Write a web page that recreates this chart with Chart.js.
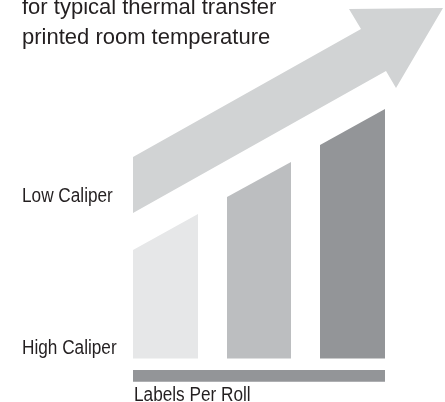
<!DOCTYPE html>
<html>
<head>
<meta charset="utf-8">
<style>
  body { margin: 0; background: #fff; }
  #wrap { width: 445px; height: 402px; position: relative; }
</style>
</head>
<body>
<div id="wrap"><canvas id="myChart"></canvas></div>
<script src="https://cdn.jsdelivr.net/npm/chart.js@4.4.0/dist/chart.umd.min.js"></script>
<script>
// values (x = labels per roll, y = caliper)
const rollStart = [133, 227, 320];
const rollEnd = [198, 291, 385];
const caliperAtStart = [108.5, 161.5, 213.5];
const caliperAtEnd = [144.5, 196.5, 249.5];
const barColors = ['#e6e7e8', '#bcbec0', '#939598'];

const arrowX = [133, 361, 349, 443, 396, 386, 133];
const arrowY = [201.5, 329.5, 349.5, 350.5, 270.5, 287.5, 145.5];

const axisX = [133, 385];
const axisTop = -11.5;
const axisBottom = -23.2;

const titleLines = ['for typical thermal transfer', 'printed room temperature'];
const caliperLabels = ['Low Caliper', 'High Caliper'];
const xTitle = 'Labels Per Roll';

let datasets = []
datasets.push({
    data: arrowX.map((x, i) => ({x: x, y: arrowY[i]})),
    backgroundColor: '#d1d3d4',
    borderColor: 'rgba(0,0,0,0)',
    borderWidth: 0,
    pointRadius: 0,
    fill: 'shape',
    tension: 0
})
rollStart.forEach((x, i) => {
    datasets.push({
        data: [{x: x, y: caliperAtStart[i]}, {x: rollEnd[i], y: caliperAtEnd[i]}],
        backgroundColor: barColors[i],
        borderColor: 'rgba(0,0,0,0)',
        borderWidth: 0,
        pointRadius: 0,
        fill: 'origin'
    })
})
datasets.push({
    data: axisX.map(x => ({x: x, y: axisTop})),
    backgroundColor: '#939598',
    borderColor: 'rgba(0,0,0,0)',
    borderWidth: 0,
    pointRadius: 0,
    fill: {value: axisBottom}
})

function drawText(ctx, text, x, y, size, sx) {
    ctx.save()
    ctx.font = size + 'px "Liberation Sans", Arial, sans-serif'
    ctx.fillStyle = '#231f20'
    ctx.textBaseline = 'alphabetic'
    ctx.textAlign = 'left'
    ctx.translate(x, y)
    ctx.scale(sx, 1)
    ctx.fillText(text, 0, 0)
    ctx.restore()
}

const textPlugin = {
    id: 'texts',
    afterDraw(chart) {
        let ctx = chart.ctx
        drawText(ctx, titleLines[0], 22, 13.5, 22, 1)
        drawText(ctx, titleLines[1], 22, 43.5, 22, 1)
        drawText(ctx, caliperLabels[0], 22, 201.5, 20, 0.86)
        drawText(ctx, caliperLabels[1], 22, 354, 20, 0.86)
        drawText(ctx, xTitle, 134, 400.5, 20, 0.86)
    }
}

let ctx = document.getElementById('myChart').getContext('2d');
let chart = new Chart(ctx, {
    type: 'line',
    data: {datasets: datasets},
    options: {
        responsive: true,
        maintainAspectRatio: false,
        animation: false,
        layout: {padding: 0},
        plugins: {legend: {display: false}, tooltip: {enabled: false}},
        scales: {
            x: {type: 'linear', display: false, min: 0, max: 445},
            y: {type: 'linear', display: false, min: -43.5, max: 358.5}
        }
    },
    plugins: [textPlugin]
});
</script>
</body>
</html>
